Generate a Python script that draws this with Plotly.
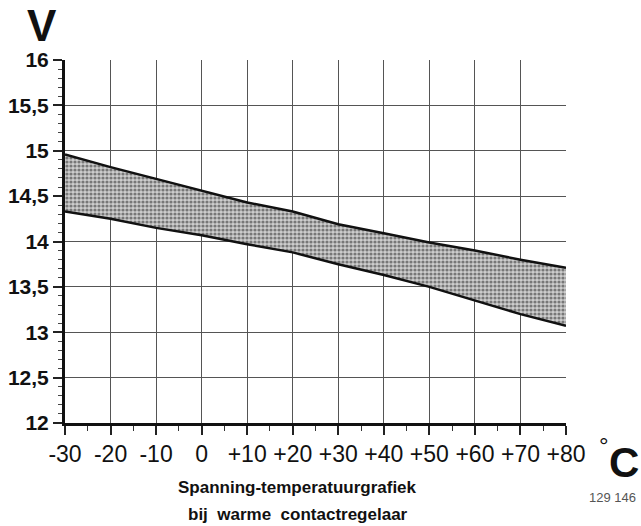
import plotly.graph_objects as go

temps = [-30, -20, -10, 0, 10, 20, 30, 40, 50, 60, 70, 80]
upper_v = [14.96, 14.82, 14.69, 14.56, 14.43, 14.33, 14.19, 14.09, 13.99, 13.90, 13.80, 13.71]
lower_v = [14.33, 14.25, 14.15, 14.07, 13.97, 13.88, 13.75, 13.63, 13.50, 13.35, 13.20, 13.07]

x_tickvals = [-30, -20, -10, 0, 10, 20, 30, 40, 50, 60, 70, 80]
x_ticktext = ["-30", "-20", "-10", "0", "+10", "+20", "+30", "+40", "+50", "+60", "+70", "+80"]
y_tickvals = [12, 12.5, 13, 13.5, 14, 14.5, 15, 15.5, 16]
y_ticktext = ["12", "12,5", "13", "13,5", "14", "14,5", "15", "15,5", "16"]

FONT = "Liberation Sans, Arial, sans-serif"

fig = go.Figure()
fig.add_trace(go.Scatter(
    x=temps, y=lower_v, mode="lines",
    line=dict(color="#111111", width=2.5),
    hoverinfo="skip", showlegend=False,
))
fig.add_trace(go.Scatter(
    x=temps, y=upper_v, mode="lines",
    line=dict(color="#111111", width=2.5),
    fill="tonexty",
    fillcolor="#bdbdbd",
    fillpattern=dict(shape=".", fgcolor="#222222", bgcolor="#cdcdcd", size=4, solidity=0.5),
    hoverinfo="skip", showlegend=False,
))

fig.update_layout(
    width=641, height=526,
    margin=dict(l=65, r=75, t=60, b=103, autoexpand=False),
    paper_bgcolor="white", plot_bgcolor="white",
    font=dict(family=FONT, color="#111111"),
    showlegend=False,
)
fig.update_xaxes(
    range=[-30, 80], automargin=False,
    tickmode="array", tickvals=x_tickvals, ticktext=x_ticktext,
    tickfont=dict(size=23, color="#111111"),
    ticks="outside", ticklen=9, tickwidth=1.5, tickcolor="#222222",
    ticklabelstandoff=0,
    minor=dict(dtick=5, ticks="outside", ticklen=5, tickwidth=1.2, tickcolor="#333333", showgrid=False),
    showgrid=True, gridcolor="#555555", gridwidth=1.3,
    showline=True, linecolor="#111111", linewidth=2.5,
    zeroline=False,
)
fig.update_yaxes(
    range=[12, 16], automargin=False,
    tickmode="array", tickvals=y_tickvals, ticktext=y_ticktext,
    tickfont=dict(size=21, color="#111111", weight="bold"),
    ticks="outside", ticklen=9, tickwidth=1.5, tickcolor="#222222",
    minor=dict(dtick=0.1, ticks="outside", ticklen=4, tickwidth=1, tickcolor="#444444", showgrid=False),
    showgrid=True, gridcolor="#555555", gridwidth=1.3,
    showline=True, linecolor="#111111", linewidth=3,
    zeroline=False,
)

fig.add_annotation(text="V", xref="paper", yref="paper", x=-0.046, y=1.095,
                   xanchor="center", yanchor="middle", showarrow=False,
                   font=dict(family=FONT, size=44, color="#111111", weight="bold"))
fig.add_annotation(text="C", xref="paper", yref="paper", x=1.116, y=-0.108,
                   xanchor="center", yanchor="middle", showarrow=False,
                   font=dict(family=FONT, size=42, color="#111111", weight="bold"))
fig.add_annotation(text="°", xref="paper", yref="paper", x=1.076, y=-0.061,
                   xanchor="center", yanchor="middle", showarrow=False,
                   font=dict(family=FONT, size=24, color="#111111"))
fig.add_annotation(text="Spanning-temperatuurgrafiek",
                   xref="paper", yref="paper", x=0.465, y=-0.179,
                   xanchor="center", yanchor="middle", showarrow=False,
                   font=dict(family=FONT, size=17, color="#111111", weight="bold"))
fig.add_annotation(text="bij  warme  contactregelaar",
                   xref="paper", yref="paper", x=0.465, y=-0.251,
                   xanchor="center", yanchor="middle", showarrow=False,
                   font=dict(family=FONT, size=17, color="#111111", weight="bold"))
fig.add_annotation(text="129 146", xref="paper", yref="paper", x=1.092, y=-0.204,
                   xanchor="center", yanchor="middle", showarrow=False,
                   font=dict(family=FONT, size=13, color="#555555"))

fig.write_html("out.html", config={"displayModeBar": False},
               post_script="document.body.style.margin='0';")
